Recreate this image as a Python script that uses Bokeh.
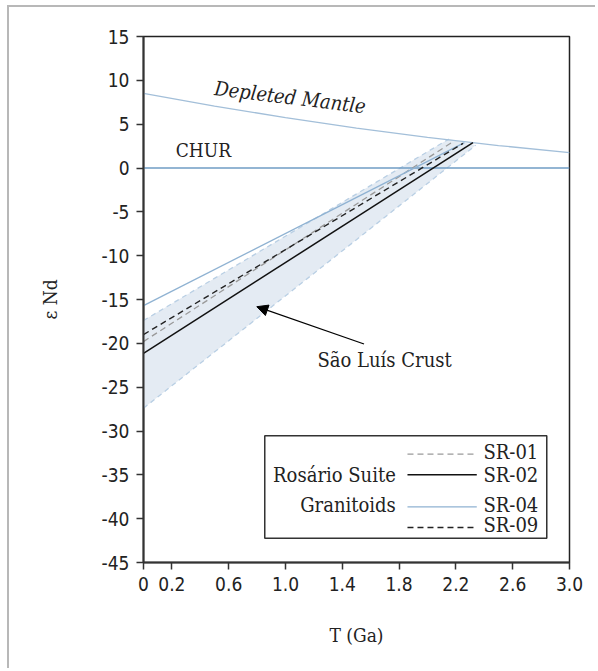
from bokeh.plotting import figure
from bokeh.models import Range1d, FixedTicker, Arrow, NormalHead
from bokeh.core.properties import value
from bokeh.embed import file_html
from bokeh.resources import INLINE

# ---------------- data ----------------
x_ticks = [0, 0.2, 0.6, 1.0, 1.4, 1.8, 2.2, 2.6, 3.0]
x_tick_labels = ["0", "0.2", "0.6", "1.0", "1.4", "1.8", "2.2", "2.6", "3.0"]
y_ticks = [15, 10, 5, 0, -5, -10, -15, -20, -25, -30, -35, -40, -45]
y_tick_labels = ["15", "10", "5", "0", "-5", "-10", "-15", "-20", "-25", "-30",
                 "-35", "-40", "-45"]

# Depleted mantle evolution
dm_t = [0, 0.5, 1.0, 1.5, 2.0, 2.5, 3.0]
dm_eps = [8.5, 7.06, 5.75, 4.56, 3.5, 2.56, 1.75]

# CHUR
chur_t = [0, 3.0]
chur_eps = [0, 0]

# Sao Luis crust field (upper & lower edges)
band_upper_t = [0, 2.15]
band_upper_eps = [-17.4, 3.3]
band_lower_t = [0, 2.34]
band_lower_eps = [-27.4, 2.6]

# Rosario Suite granitoid samples: eps at T=0 and model-age end point
samples = ["SR-01", "SR-02", "SR-04", "SR-09"]
eps_t0 = [-19.8, -21.15, -15.7, -19.0]
t_dm = [2.18, 2.32, 2.26, 2.25]
eps_tdm = [3.0, 2.9, 2.9, 2.8]

# ---------------- styles ----------------
SERIF = "DejaVu Serif Condensed"
SANS = "DejaVu Sans Condensed"
INK = "#222222"
styles = {
    "SR-01": dict(color="#9a9a9a", dash="6 4", width=1.3),
    "SR-02": dict(color="#111111", dash="solid", width=1.5),
    "SR-04": dict(color="#8fb2d2", dash="solid", width=1.3),
    "SR-09": dict(color="#222222", dash="6 4", width=1.4),
}

p = figure(width=588, height=663, output_backend="svg", toolbar_location=None,
           x_range=Range1d(0, 3.0), y_range=Range1d(-45, 15),
           min_border_left=134, min_border_right=28, min_border_top=29,
           min_border_bottom=108)
p.styles = {"border-left": "2px solid #b8b8b8", "border-top": "2px solid #b8b8b8",
            "margin-left": "7px", "margin-top": "5px"}

p.grid.visible = False
p.outline_line_color = INK
p.outline_line_width = 1.5
p.background_fill_color = "white"
p.border_fill_color = "white"

for ax in (p.xaxis, p.yaxis):
    ax.axis_line_color = "#333333"
    ax.axis_line_width = 2
    ax.major_tick_line_color = "#333333"
    ax.major_tick_line_width = 1.5
    ax.major_tick_out = 7
    ax.major_tick_in = 0
    ax.minor_tick_line_color = None
    ax.major_label_text_font = SANS
    ax.major_label_text_font_size = "19px"
    ax.major_label_text_color = INK
    ax.axis_label_text_font = SERIF
    ax.axis_label_text_font_style = "normal"
    ax.axis_label_text_font_size = "19px"
    ax.axis_label_text_color = INK

p.xaxis.ticker = FixedTicker(ticks=x_ticks)
p.xaxis.major_label_overrides = {t: l for t, l in zip(x_ticks, x_tick_labels)}
p.xaxis.major_label_standoff = 7
p.xaxis.axis_label = "T (Ga)"
p.xaxis.axis_label_standoff = 30

p.yaxis.ticker = FixedTicker(ticks=y_ticks)
p.yaxis.major_label_overrides = {t: l for t, l in zip(y_ticks, y_tick_labels)}
p.yaxis.major_label_standoff = 7
p.yaxis.axis_label = "ε Nd"
p.yaxis.axis_label_standoff = 38

# crust field
p.patch(band_upper_t + band_lower_t[::-1], band_upper_eps + band_lower_eps[::-1],
        fill_color="#e4ebf3", line_color=None)
p.line(band_upper_t, band_upper_eps, line_color="#b9cfe4", line_width=1.3, line_dash="5 4")
p.line(band_lower_t, band_lower_eps, line_color="#b9cfe4", line_width=1.3, line_dash="5 4")

# reference curves
p.line(dm_t, dm_eps, line_color="#a3bfd9", line_width=1.3)
p.line(chur_t, chur_eps, line_color="#6f9cc4", line_width=1.3)

# samples
for s, e0, td, ed in zip(samples, eps_t0, t_dm, eps_tdm):
    st = styles[s]
    p.line([0, td], [e0, ed], line_color=st["color"], line_width=st["width"],
           line_dash=st["dash"])

# annotations
p.text(x=[0.5], y=[9.12], text=["Depleted Mantle"], angle=-0.121,
       text_font=value(SERIF), text_font_style="italic", text_font_size="20px",
       text_color=INK, text_align="left", text_baseline="middle")
p.text(x=[0.227], y=[2.0], text=["CHUR"], text_font=value(SERIF),
       text_font_size="19px", text_color=INK, text_align="left",
       text_baseline="middle")
p.text(x=[1.225], y=[-21.95], text=["São Luís Crust"], text_font=value(SERIF),
       text_font_size="20px", text_color=INK, text_align="left",
       text_baseline="middle")
p.add_layout(Arrow(end=NormalHead(size=11, fill_color="black", line_color="black"),
                   x_start=1.553, y_start=-20.08, x_end=0.798, y_end=-15.82,
                   line_color="black", line_width=1.2))

# legend (drawn)
p.quad(left=[0.854], right=[2.84], bottom=[-42.22], top=[-30.55],
       fill_color="white", line_color="#333333", line_width=1.5)
leg_line_y = [-32.64, -35.0, -38.65, -41.0]
leg_text_y = [-32.45, -34.97, -38.39, -40.77]
for s, ly, ty in zip(samples, leg_line_y, leg_text_y):
    st = styles[s]
    p.line([1.859, 2.347], [ly, ly], line_color=st["color"], line_width=st["width"],
           line_dash=st["dash"])
    p.text(x=[2.394], y=[ty], text=[s], text_font=value(SERIF), text_font_size="20px",
           text_color=INK, text_align="left", text_baseline="middle")
p.text(x=[1.777, 1.777], y=[-34.97, -38.39], text=["Rosário Suite", "Granitoids"],
       text_font=value(SERIF), text_font_size="20px", text_color=INK,
       text_align="right", text_baseline="middle")

open("out.html", "w").write(file_html(p, INLINE))
